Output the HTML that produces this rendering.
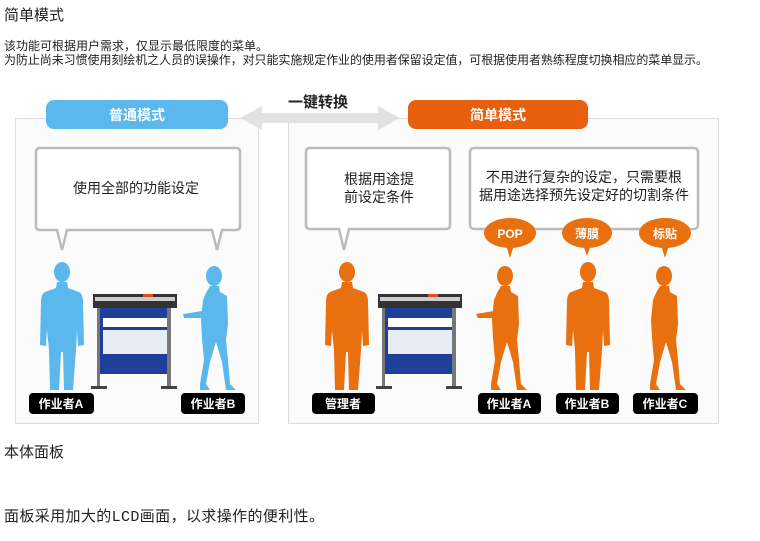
<!DOCTYPE html>
<html><head><meta charset="utf-8"><style>
html,body{margin:0;padding:0;background:#fff;width:760px;height:541px;overflow:hidden}
svg{display:block}
.t{font-family:"Liberation Sans","Noto Sans CJK SC",sans-serif}
</style></head><body>
<svg width="760" height="541" viewBox="0 0 760 541" xmlns="http://www.w3.org/2000/svg">
<defs>
<g id="man">
<ellipse cx="0" cy="-118" rx="8" ry="10"/>
<path d="M-5,-108 L5,-108 L6,-102 L17,-98 Q21,-96 21,-88 L22,-45 L16,-44 L15,-60 L14,-40 L11,0 L2,0 L1,-38 L-1,-38 L-3,0 L-12,0 L-13,-40 L-15,-60 L-16,-44 L-22,-45 L-21,-88 Q-21,-96 -17,-98 L-6,-102 Z"/>
</g>
<g id="woman">
<ellipse cx="0" cy="-114" rx="8" ry="10"/>
<path d="M-4,-104 L5,-104 L6,-98 L13,-94 L14,-66 L12,-50 L14,-30 L16,-6 L22,0 L12,0 L8,-28 L2,-48 L-4,-28 L-8,-6 L-4,0 L-14,0 L-14,-6 L-10,-30 L-12,-52 L-13,-70 L-11,-90 L-8,-97 Z"/>
</g>
<g id="mach">
<rect x="0" y="0" width="84" height="14" fill="#333"/>
<rect x="2" y="3" width="80" height="4" fill="#ccc"/>
<rect x="50" y="0" width="10" height="3" fill="#e05020"/>
<rect x="6" y="14" width="72" height="66" fill="#1e3f9a"/>
<rect x="10" y="24" width="64" height="9" fill="#fff"/>
<rect x="10" y="36" width="64" height="24" fill="#e8ecf5"/>
<rect x="74" y="14" width="4" height="80" fill="#777"/>
<rect x="4" y="14" width="3" height="80" fill="#777"/>
<rect x="-2" y="92" width="16" height="3" fill="#444"/>
<rect x="68" y="92" width="16" height="3" fill="#444"/>
</g>
</defs>
<text class="t" x="4" y="20" font-size="15" fill="#222">简单模式</text>
<text class="t" x="4" y="50" font-size="12" fill="#222">该功能可根据用户需求，仅显示最低限度的菜单。</text>
<text class="t" x="4" y="64" font-size="12" fill="#222" textLength="704">为防止尚未习惯使用刻绘机之人员的误操作，对只能实施规定作业的使用者保留设定值，可根据使用者熟练程度切换相应的菜单显示。</text>

<rect x="15.5" y="118.5" width="243" height="305" fill="#fbfbfb" stroke="#ddd"/>
<rect x="288.5" y="118.5" width="430" height="305" fill="#fbfbfb" stroke="#ddd"/>

<path d="M240,118 L262,106 L262,113 L378,113 L378,106 L400,118 L378,130 L378,123 L262,123 L262,130 Z" fill="#e2e2e2"/>
<text class="t" x="318" y="107" font-size="15" font-weight="bold" text-anchor="middle" fill="#222">一键转换</text>
<rect x="46" y="100" width="182" height="29" rx="8" fill="#5bb8ec"/>
<text class="t" x="137" y="120" font-size="14" font-weight="bold" text-anchor="middle" fill="#fff">普通模式</text>
<rect x="408" y="100" width="180" height="29" rx="8" fill="#e8600e"/>
<text class="t" x="498" y="120" font-size="14" font-weight="bold" text-anchor="middle" fill="#fff">简单模式</text>

<g fill="#fff" stroke="#bbb" stroke-width="2.5">
<path d="M40,148 H236 Q240,148 240,152 V226 Q240,230 236,230 H222 L217,250 L212,230 H67 L62,250 L57,230 H40 Q36,230 36,226 V152 Q36,148 40,148 Z"/>
<path d="M310,148 H446 Q450,148 450,152 V225 Q450,229 446,229 H349 L344,250 L339,229 H310 Q306,229 306,225 V152 Q306,148 310,148 Z"/>
<rect x="470" y="148" width="228" height="81" rx="4"/>
</g>
<text class="t" x="136" y="193" font-size="14" text-anchor="middle" fill="#222">使用全部的功能设定</text>
<text class="t" x="379" y="184" font-size="14" text-anchor="middle" fill="#222">根据用途提</text>
<text class="t" x="379" y="202" font-size="14" text-anchor="middle" fill="#222">前设定条件</text>
<text class="t" x="584" y="182" font-size="14" text-anchor="middle" fill="#222">不用进行复杂的设定，只需要根</text>
<text class="t" x="584" y="200" font-size="14" text-anchor="middle" fill="#222">据用途选择预先设定好的切割条件</text>

<g fill="#e8700e">
<ellipse cx="510" cy="233" rx="26" ry="15"/><path d="M506,245 L510,258 L514,245 Z"/>
<ellipse cx="587" cy="233" rx="25" ry="15"/><path d="M583,245 L587,256 L591,245 Z"/>
<ellipse cx="665" cy="233" rx="26" ry="15"/><path d="M661,245 L665,258 L669,245 Z"/>
</g>
<g class="t" font-size="12" font-weight="bold" fill="#fff" text-anchor="middle">
<text x="510" y="238">POP</text><text x="587" y="238">薄膜</text><text x="665" y="238">标贴</text>
</g>

<g fill="#5bb8ec">
<use href="#man" transform="translate(62,390)"/>
<use href="#woman" transform="translate(214,390)"/>
<path d="M183,314 L208,310 L208,318 L184,318 Z"/>
</g>
<g fill="#e8700e">
<use href="#man" transform="translate(347,390)"/>
<use href="#woman" transform="translate(505,390)"/>
<path d="M476,314 L500,310 L500,318 L478,318 Z"/>
<use href="#man" transform="translate(588,390)"/>
<use href="#woman" transform="translate(664,390)"/>
</g>
<use href="#mach" transform="translate(93,294)"/>
<use href="#mach" transform="translate(378,294)"/>

<g fill="#000">
<rect x="29" y="393" width="65" height="21" rx="4"/>
<rect x="181" y="393" width="64" height="21" rx="4"/>
<rect x="312" y="393" width="63" height="21" rx="4"/>
<rect x="478" y="393" width="63" height="21" rx="4"/>
<rect x="556" y="393" width="63" height="21" rx="4"/>
<rect x="633" y="393" width="65" height="21" rx="4"/>
</g>
<g class="t" font-size="12" font-weight="bold" fill="#fff" text-anchor="middle">
<text x="61" y="408">作业者A</text><text x="213" y="408">作业者B</text>
<text x="343" y="408">管理者</text><text x="509" y="408">作业者A</text>
<text x="587" y="408">作业者B</text><text x="665" y="408">作业者C</text>
</g>

<text class="t" x="4" y="457" font-size="15" fill="#222">本体面板</text>
<text x="4" y="521" font-size="15" fill="#222" font-family="'Liberation Mono','Noto Sans CJK SC',monospace" textLength="320">面板采用加大的LCD画面，以求操作的便利性。</text>
</svg>
</body></html>
